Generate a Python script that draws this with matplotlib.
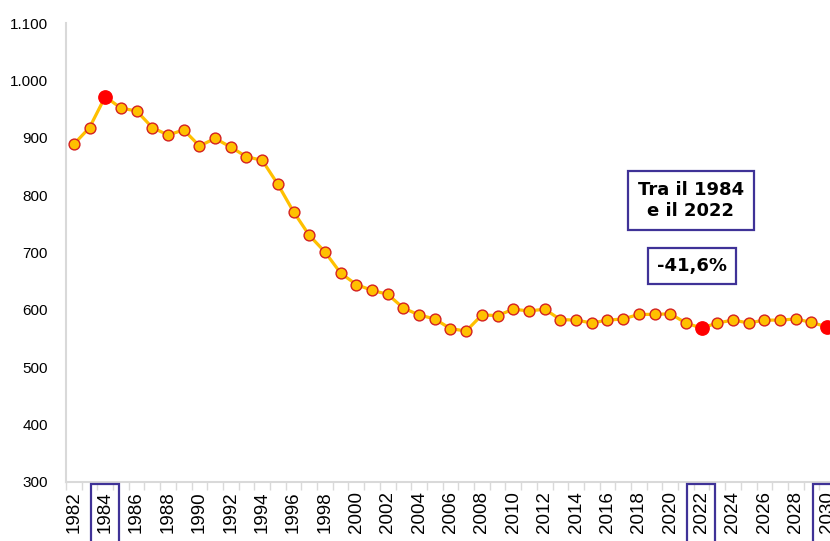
import matplotlib
matplotlib.use('Agg')
import matplotlib.pyplot as plt
from matplotlib.patches import Rectangle
from matplotlib.ticker import FuncFormatter

# dati
anni = list(range(1982, 2031))
valori = [889, 918, 972, 952, 947, 918, 905, 914, 886, 899,
          884, 867, 861, 819, 771, 730, 701, 664, 644, 634,
          627, 603, 591, 584, 567, 563, 591, 590, 601, 598,
          601, 583, 582, 577, 582, 584, 592, 592, 593, 577,
          568, 577, 582, 577, 582, 582, 584, 578, 570]
anni_evidenza = [1984, 2022, 2030]
testo_periodo = 'Tra il 1984\ne il 2022'
testo_var = '-41,6%'

giallo = '#FFC000'
bordo = '#3F3297'

fig = plt.figure(figsize=(8.3, 5.41), dpi=100)
ax = fig.add_axes([66/830, (541-481.7)/541, (835-66)/830, (481.7-23.3)/541])

ax.plot(anni, valori, color=giallo, lw=2.3, marker='o', ms=7.8,
        mfc=giallo, mec='#D42020', mew=1.0, zorder=3)
ev = [valori[anni.index(a)] for a in anni_evidenza]
ax.plot(anni_evidenza, ev, ls='none', marker='o', ms=9.6,
        mfc='#FF0000', mec='#FF0000', zorder=4)

ax.set_xlim(1981.5, 2030.5)
ax.set_ylim(300, 1100)
ax.set_yticks(range(300, 1101, 100))
ax.yaxis.set_major_formatter(FuncFormatter(lambda v, p: f'{int(v):,}'.replace(',', '.')))

ax.set_xticks(anni[::2])
ax.set_xticks([a - 0.5 for a in anni] + [2030.5], minor=True)
ax.tick_params(axis='x', which='major', length=0, pad=7, rotation=90, labelsize=13.5)
ax.tick_params(axis='x', which='minor', length=5.5, color='#D9D9D9', width=1)
ax.tick_params(axis='y', length=0, pad=13, labelsize=11)
for lab in ax.get_xticklabels() + ax.get_yticklabels():
    lab.set_fontfamily('Liberation Sans')

for s in ['top', 'right']:
    ax.spines[s].set_visible(False)
for s in ['left', 'bottom']:
    ax.spines[s].set_color('#D9D9D9')
    ax.spines[s].set_linewidth(1.5)

# riquadri sulle etichette degli anni
for a in anni_evidenza:
    ax.add_patch(Rectangle((a - 0.9, -0.3), 1.75, 0.295,
                           transform=ax.get_xaxis_transform(), clip_on=False,
                           fill=False, ec=bordo, lw=1.6, zorder=5))

ax.text(2021.3, 791, testo_periodo, ha='center', va='center', fontsize=13,
        fontweight='bold', family='DejaVu Sans', linespacing=1.25,
        bbox=dict(boxstyle='square,pad=0.55', fc='white', ec=bordo, lw=1.6))
ax.text(2021.4, 676, testo_var, ha='center', va='center', fontsize=13,
        fontweight='bold', family='DejaVu Sans',
        bbox=dict(boxstyle='square,pad=0.5', fc='white', ec=bordo, lw=1.6))

fig.savefig('out.png', dpi=100)
